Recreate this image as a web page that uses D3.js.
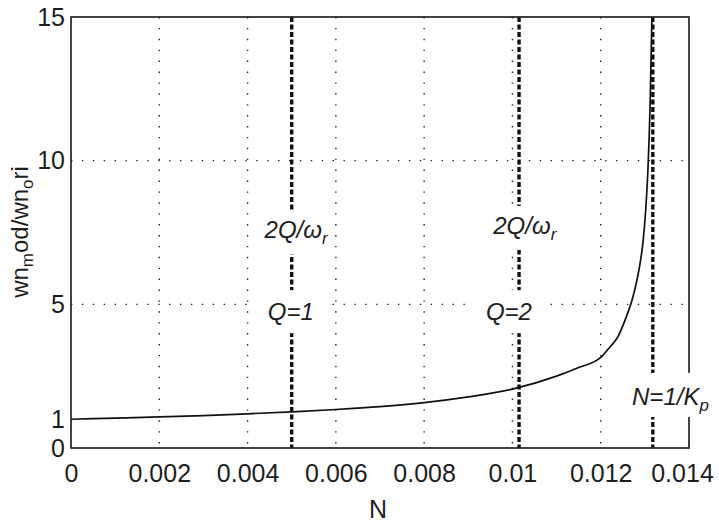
<!DOCTYPE html>
<html>
<head>
<meta charset="utf-8">
<script src="https://cdn.jsdelivr.net/npm/d3@7"></script>
<style>
  html, body { margin: 0; padding: 0; background: #fff; }
  svg { display: block; }
  text { font-family: "Liberation Sans", Arial, sans-serif; fill: #1e1e1e; }
</style>
</head>
<body>
<svg id="chart" width="719" height="522"></svg>
<script>
// Normalised natural frequency versus N
const nValues = [0, 0.001, 0.002, 0.003, 0.004, 0.005, 0.006, 0.007, 0.008, 0.009,
                 0.010, 0.011, 0.0115, 0.012, 0.0122, 0.0124, 0.0125, 0.0126, 0.0127,
                 0.0128, 0.0129, 0.01296, 0.01302, 0.01307, 0.01312, 0.01316];
const ratioValues = [1.0, 1.04, 1.08, 1.13, 1.19, 1.26, 1.34, 1.44, 1.58, 1.78,
                     2.05, 2.5, 2.8, 3.15, 3.5, 3.9, 4.25, 4.65, 5.1,
                     5.7, 6.5, 7.2, 8.3, 9.7, 12.0, 15.0];

// Axis ticks
const xTicks = [0, 0.002, 0.004, 0.006, 0.008, 0.01, 0.012, 0.014];
const xTickLabels = ["0", "0.002", "0.004", "0.006", "0.008", "0.01", "0.012", "0.014"];
const yTicks = [0, 1, 5, 10, 15];
const xGrid = [0.002, 0.004, 0.006, 0.008, 0.01, 0.012];
const yGrid = [5, 10];

// Reference lines: 2Q/ω_r for Q = 1, 2 and N = 1/K_p
const refLines = [0.005, 0.01015, 0.01318];

// Annotations: [main text, subscript, x (N), y (ratio), style, pad x, pad top, pad bottom]
const notes = [
  ["2Q/ω", "r", 0.0051, 7.3, "italic", 2, 6, 6],
  ["Q=1", "", 0.00498, 4.45, "italic", 18, 8, 8],
  ["2Q/ω", "r", 0.01028, 7.45, "italic", 2, 6, 6],
  ["Q=2", "", 0.00992, 4.45, "italic", 18, 8, 8],
  ["N=1/K", "p", 0.01358, 1.5, "italic", 4, 10, 2]
];

const svg = d3.select("#chart");
const x = d3.scaleLinear().domain([0, 0.014]).range([71, 689]);
const y = d3.scaleLinear().domain([0, 15]).range([448, 17]);

// dotted grid
const grid = svg.append("g").attr("stroke", "#222").attr("stroke-width", 1.4)
  .attr("stroke-dasharray", "1.4,9.5");
grid.selectAll("line.v").data(xGrid).join("line").attr("class", "v")
  .attr("x1", d => x(d)).attr("x2", d => x(d)).attr("y1", y(15)).attr("y2", y(0));
grid.selectAll("line.h").data(yGrid).join("line").attr("class", "h")
  .attr("x1", x(0)).attr("x2", x(0.014)).attr("y1", d => y(d)).attr("y2", d => y(d));

// thick dashed reference lines
svg.append("g").selectAll("line").data(refLines).join("line")
  .attr("x1", d => x(d)).attr("x2", d => x(d)).attr("y1", y(15)).attr("y2", y(0))
  .attr("stroke", "#111").attr("stroke-width", 3.4).attr("stroke-dasharray", "5,2.5");

// curve
const line = d3.line().x(d => x(d[0])).y(d => y(d[1])).curve(d3.curveMonotoneX);
svg.append("path").datum(nValues.map((n, i) => [n, ratioValues[i]]))
  .attr("d", line).attr("fill", "none").attr("stroke", "#111").attr("stroke-width", 1.7);

// axes box
svg.append("rect").attr("x", x(0)).attr("y", y(15))
  .attr("width", x(0.014) - x(0)).attr("height", y(0) - y(15))
  .attr("fill", "none").attr("stroke", "#222").attr("stroke-width", 1.7);

// axes
const xAxis = d3.axisBottom(x).tickValues(xTicks)
  .tickFormat((d, i) => xTickLabels[i]).tickSize(0).tickPadding(16);
const gx = svg.append("g").attr("transform", `translate(0,${y(0)})`).call(xAxis);
gx.select(".domain").remove();
gx.selectAll("text").attr("font-size", 25).attr("fill", "#1e1e1e")
  .attr("font-family", "Liberation Sans, Arial, sans-serif");
// keep the last label inside the page
gx.selectAll("text").filter(d => d === 0.014).attr("dx", -7);

const yAxis = d3.axisLeft(y).tickValues(yTicks).tickFormat(d3.format("d"))
  .tickSize(0).tickPadding(6);
const gy = svg.append("g").attr("transform", `translate(${x(0)},0)`).call(yAxis);
gy.select(".domain").remove();
gy.selectAll("text").attr("font-size", 25).attr("fill", "#1e1e1e")
  .attr("font-family", "Liberation Sans, Arial, sans-serif");

// axis titles
svg.append("text").attr("x", 378).attr("y", 518).attr("text-anchor", "middle")
  .attr("font-size", 25).text("N");

const yl = svg.append("text").attr("transform", "translate(28,232) rotate(-90)")
  .attr("text-anchor", "middle").attr("font-size", 24);
yl.append("tspan").text("wn");
yl.append("tspan").attr("font-size", 17).attr("dy", 5).text("m");
yl.append("tspan").attr("dy", -5).text("od/wn");
yl.append("tspan").attr("font-size", 17).attr("dy", 5).text("o");
yl.append("tspan").attr("dy", -5).text("ri");

// annotations with white background
notes.forEach(([main, sub, nx, ny, style, px, pt, pb]) => {
  const g = svg.append("g");
  const bg = g.append("rect").attr("fill", "#fff");
  const t = g.append("text").attr("x", x(nx)).attr("y", y(ny))
    .attr("text-anchor", "middle").attr("font-size", 24).attr("font-style", style);
  t.append("tspan").text(main);
  if (sub) t.append("tspan").attr("font-size", 17).attr("dy", 6).text(sub);
  const b = t.node().getBBox();
  bg.attr("x", b.x - px).attr("y", b.y - pt)
    .attr("width", b.width + 2 * px).attr("height", b.height + pt + pb);
});
</script>
</body>
</html>
